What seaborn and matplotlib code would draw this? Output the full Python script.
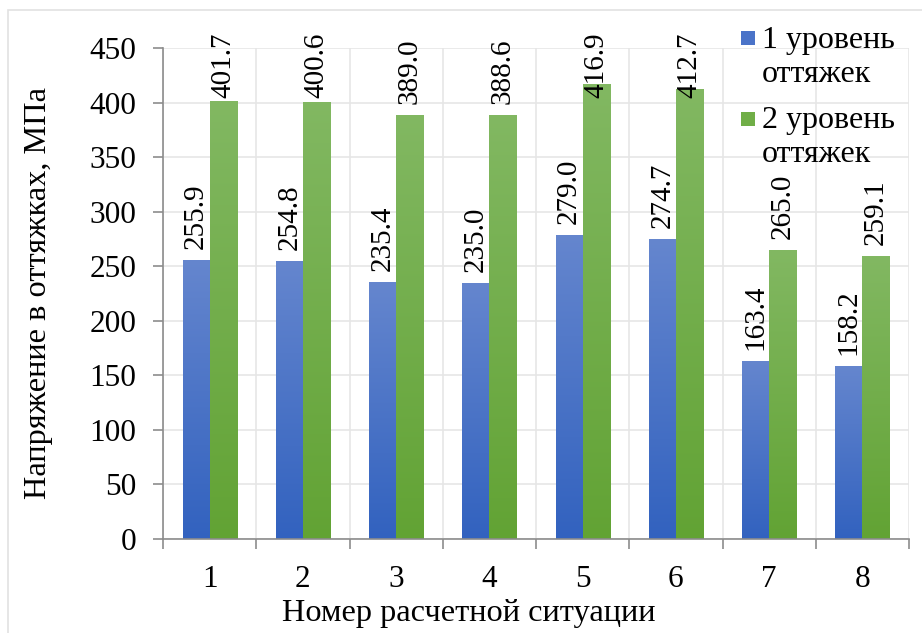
import numpy as np
import pandas as pd
import matplotlib
matplotlib.use("Agg")
import matplotlib.pyplot as plt
import seaborn as sns
from matplotlib import font_manager as fm
from matplotlib.colors import LinearSegmentedColormap
from matplotlib.patches import Rectangle

# --- data -------------------------------------------------------------
situations = ["1", "2", "3", "4", "5", "6", "7", "8"]
level1 = [255.9, 254.8, 235.4, 235.0, 279.0, 274.7, 163.4, 158.2]
level2 = [401.7, 400.6, 389.0, 388.6, 416.9, 412.7, 265.0, 259.1]
series_names = ["1 уровень\nоттяжек", "2 уровень\nоттяжек"]
y_ticks = [0, 50, 100, 150, 200, 250, 300, 350, 400, 450]

df = pd.DataFrame({
    "situation": situations * 2,
    "value": level1 + level2,
    "series": [series_names[0]] * len(situations) + [series_names[1]] * len(situations),
})

# gradient fills (top colour, bottom colour)
grad = {
    series_names[0]: ("#6586ce", "#3262bf"),
    series_names[1]: ("#82b862", "#62a334"),
}
solid = {series_names[0]: "#4a73c8", series_names[1]: "#70ae47"}

sns.set_theme(style="white")
serif_path = fm.findfont(fm.FontProperties(family="Liberation Serif"), fallback_to_default=False)
if "LiberationSerif" not in serif_path.replace(" ", "").replace("-", ""):
    raise RuntimeError("serif font resolved to " + serif_path)
plt.rcParams["font.family"] = ["Liberation Serif", "DejaVu Serif"]

W, H = 922, 633
fig = plt.figure(figsize=(W / 100, H / 100), dpi=100)
ax = fig.add_axes([163 / W, 1 - 539 / H, (909 - 163) / W, (539 - 48) / H])

sns.barplot(data=df, x="situation", y="value", hue="series", order=situations,
            hue_order=series_names, palette=solid, width=0.58, dodge=True,
            legend=False, ax=ax, saturation=1, edgecolor="none", linewidth=0)

# replace flat fills with vertical gradients, per bar
n = len(situations)
for i, bar in enumerate(ax.patches):
    name = series_names[i // n]
    top, bottom = grad[name]
    cmap = LinearSegmentedColormap.from_list("g", [bottom, top])
    x0, y0 = bar.get_x(), bar.get_y()
    w, h = bar.get_width(), bar.get_height()
    g = np.linspace(0, 1, 256).reshape(-1, 1)
    im = ax.imshow(g, cmap=cmap, origin="lower", aspect="auto",
                   extent=[x0, x0 + w, y0, y0 + h], zorder=2, interpolation="bilinear")
    im.set_clip_path(bar)
    bar.set_facecolor("none")

ax.set_xlim(-0.5, n - 0.5)
ax.set_ylim(0, 450)

# value labels, rotated; kept inside the figure near the top
label_top_limit = 464
fig.canvas.draw()
renderer = fig.canvas.get_renderer()
for i, bar in enumerate(ax.patches):
    val = (level1 + level2)[i]
    xc = bar.get_x() + bar.get_width() / 2
    t = ax.text(xc, val + 10, f"{val:.1f}", rotation=90, ha="center", va="bottom",
                fontsize=21, color="black", zorder=5, clip_on=False)
    bb = t.get_window_extent(renderer).transformed(ax.transData.inverted())
    if bb.y1 > label_top_limit:
        t.set_y(label_top_limit)
        t.set_va("top")

# axes styling
ax.set_yticks(y_ticks)
ax.set_yticklabels([str(v) for v in y_ticks])
ax.set_xticks(range(n))
ax.set_xticklabels(situations)
ax.set_xticks(np.arange(-0.5, n, 1.0), minor=True)
ax.grid(False)
ax.yaxis.grid(True, color="#e6e6e6", linewidth=1.2, zorder=0)
ax.xaxis.grid(True, which="minor", color="#e6e6e6", linewidth=1.2, zorder=0)
ax.set_axisbelow(True)

for s in ["top", "right"]:
    ax.spines[s].set_visible(False)
for s in ["left", "bottom"]:
    ax.spines[s].set_color("#8c8c8c")
    ax.spines[s].set_linewidth(1.2)
    ax.spines[s].set_zorder(4)

ax.tick_params(axis="y", which="major", direction="out", length=7, width=1.2,
               color="#8c8c8c", labelsize=22.5, pad=12, left=True)
ax.tick_params(axis="x", which="major", length=0, labelsize=22.5, pad=19, bottom=True)
ax.tick_params(axis="x", which="minor", direction="out", length=7, width=1.2,
               color="#8c8c8c", bottom=True)
for lab in ax.get_xticklabels() + ax.get_yticklabels():
    lab.set_color("black")

ax.set_xlabel("")
ax.set_ylabel("")
fig.text(469 / W, 1 - 613 / H, "Номер расчетной ситуации", ha="center",
         va="center", fontsize=23.3, color="black")
fig.text(39 / W, 1 - 293 / H, "Напряжение в оттяжках, МПа", ha="center",
         va="center", rotation=90, fontsize=23.3, color="black")

# legend on the right: square swatch beside the first line of each entry
legend_rows = [(31, 48), (112, 128)]  # (swatch top, first baseline) in pixels
for name, (sq_top, base) in zip(series_names, legend_rows):
    fig.patches.append(Rectangle((741 / W, 1 - (sq_top + 14) / H), 14 / W, 14 / H,
                                 transform=fig.transFigure, facecolor=solid[name],
                                 edgecolor="none"))
    for k, line in enumerate(name.split("\n")):
        fig.text(762 / W, 1 - (base + 34 * k) / H, line, ha="left", va="baseline",
                 fontsize=23, color="black")

# light chart-area border
fig.patches.append(Rectangle((8 / W, -0.05), 1.1, 1 - 10 / H + 0.05,
                             transform=fig.transFigure, fill=False,
                             edgecolor="#e2e2e2", linewidth=1.2))

fig.savefig("out.png", dpi=100, facecolor="white")
